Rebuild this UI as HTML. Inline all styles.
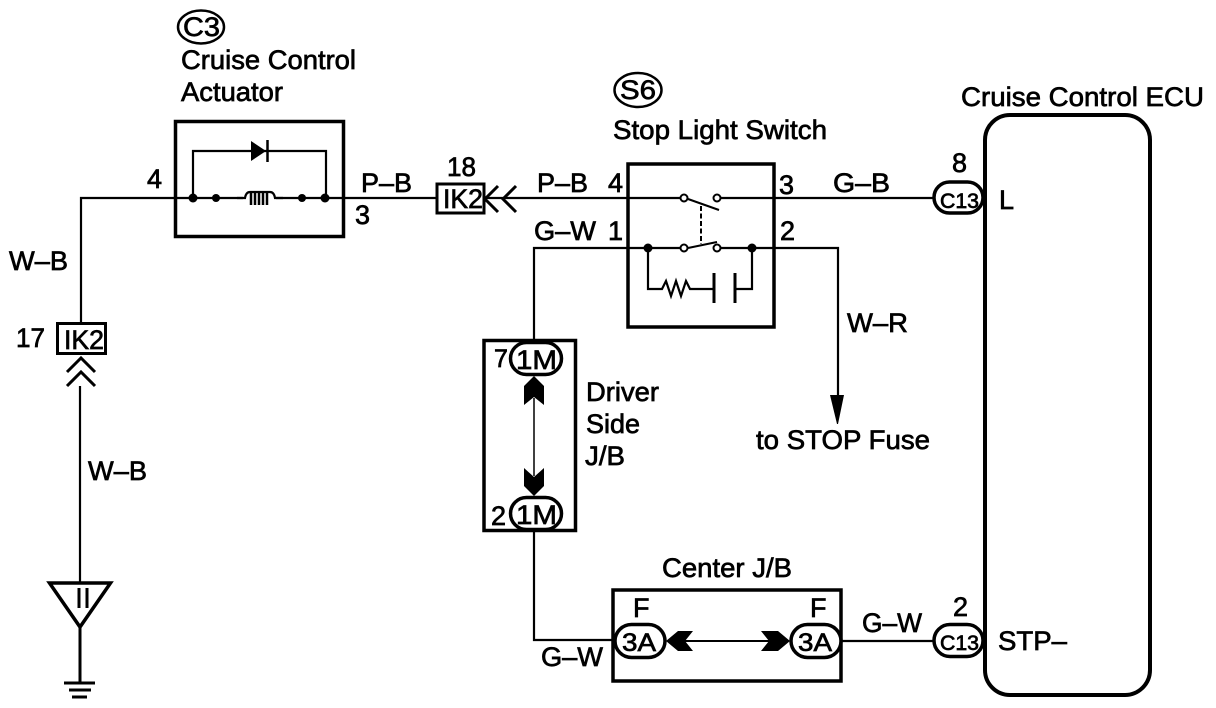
<!DOCTYPE html>
<html><head><meta charset="utf-8"><style>
html,body{margin:0;padding:0;background:#fff}
svg{display:block}
text{font-family:"Liberation Sans",sans-serif;font-size:27px;fill:#000;stroke:#000;stroke-width:.7}
.w{fill:none;stroke:#000;stroke-width:2.2}
.b{fill:none;stroke:#000;stroke-width:3.5}
.o{fill:#fff;stroke:#000;stroke-width:3.5}
.k{fill:#000;stroke:none}
</style></head><body>
<svg width="1216" height="708" viewBox="0 0 1216 708" xmlns="http://www.w3.org/2000/svg">
<rect width="1216" height="708" fill="#fff"/>
<!-- wires -->
<path class="w" d="M81 323V198H436"/>
<path class="w" d="M484 198H680M721 198H933"/>
<path class="w" d="M534 340V248H680M721 248H838V396"/>
<path class="w" d="M534 531V640H613"/>
<path class="w" d="M842 641H933"/>
<path class="w" d="M80 386V583"/>
<!-- Actuator -->
<rect class="b" x="175.500" y="121.500" width="168" height="115"/>
<path class="w" d="M193 198V151H326V198"/>
<path class="k" d="M251 141L266 151L251 161Z"/>
<path d="M267.500 140V162" stroke="#000" stroke-width="2.500"/>
<circle class="k" cx="193" cy="198" r="4.500"/><circle class="k" cx="216" cy="198" r="4"/>
<circle class="k" cx="302" cy="198" r="4"/><circle class="k" cx="325" cy="198" r="4.500"/>
<rect x="243" y="191" width="33" height="14" fill="#fff"/>
<path class="w" d="M237 198H245Q246 192 250 192H270Q274 192 275 198H283"/>
<path d="M251 193V205M255 193V205M259 193V205M263 193V205M267 193V205" stroke="#000" stroke-width="2.500" fill="none"/>
<!-- IK2 17 -->
<rect x="57.500" y="323.500" width="48" height="30" fill="#fff" stroke="#000" stroke-width="3"/>
<path d="M67 372L81 358L95 372M67 386L81 372L95 386" fill="none" stroke="#000" stroke-width="3"/>
<!-- ground -->
<path d="M49.500 583H110.500L80 627Z" fill="#fff" stroke="#000" stroke-width="3.500"/>
<path d="M79 588V608M87 588V608" stroke="#000" stroke-width="3"/>
<path d="M80 627V683" stroke="#000" stroke-width="3"/>
<path d="M64 683H95M69 690H91M72 697H87" stroke="#000" stroke-width="3"/>
<!-- IK2 18 -->
<rect x="437" y="184" width="47" height="29" fill="#fff" stroke="#000" stroke-width="3"/>
<path d="M498 186L485 199L498 212M516 186L503 199L516 212" fill="none" stroke="#000" stroke-width="3"/>
<!-- Switch -->
<rect class="b" x="628" y="164" width="146" height="163"/>
<circle cx="684" cy="198" r="3.500" fill="#fff" stroke="#000" stroke-width="2"/>
<circle cx="717" cy="198" r="3.500" fill="#fff" stroke="#000" stroke-width="2"/>
<path d="M688 199L719 210" stroke="#000" stroke-width="2"/>
<path d="M701 206V244" stroke="#000" stroke-width="2" stroke-dasharray="5 2.500"/>
<circle cx="684" cy="248" r="3.500" fill="#fff" stroke="#000" stroke-width="2"/>
<circle cx="717" cy="248" r="3.500" fill="#fff" stroke="#000" stroke-width="2"/>
<path d="M688 248L717 242" stroke="#000" stroke-width="2"/>
<circle class="k" cx="648" cy="248" r="4.500"/><circle class="k" cx="752" cy="248" r="4.500"/>
<path class="w" d="M648 248V289H662L666 281L671 296L676 281L681 296L686 281L690 289H714"/>
<path class="w" d="M735 289H752V248"/>
<path d="M714 273V303M735 273V303" stroke="#000" stroke-width="3"/>
<!-- arrow to fuse -->
<path class="k" d="M830 395H844L838 424H837Z"/>
<!-- Driver J/B -->
<rect class="b" x="484" y="340.500" width="91.500" height="190"/>
<path d="M534 398V476" stroke="#000" stroke-width="1.500"/>
<path class="k" d="M534 376L544 386V405L534 397L524 405V386Z"/>
<path class="k" d="M534 496L544 486V468L534 477L524 468V486Z"/>
<rect class="o" x="510.500" y="342.500" width="51" height="32" rx="16"/>
<rect class="o" x="510.500" y="497.500" width="51" height="32" rx="16"/>
<!-- Center J/B -->
<rect class="b" x="613" y="590" width="228" height="91"/>
<path d="M685 641H769" stroke="#000" stroke-width="2"/>
<path class="k" d="M666 641L678 631H693L685 641L693 651H678Z"/>
<path class="k" d="M790 641L778 631H761L769 641L761 651H778Z"/>
<rect class="o" x="615" y="624.500" width="50" height="33" rx="16.500"/>
<rect class="o" x="791" y="624.500" width="50" height="33" rx="16.500"/>
<!-- ECU -->
<rect x="985" y="115" width="165" height="580" rx="25" ry="25" fill="#fff" stroke="#000" stroke-width="4"/>
<rect class="o" x="934" y="182" width="49" height="31" rx="15.500"/>
<rect class="o" x="934" y="624.500" width="49" height="32" rx="16"/>
<!-- ellipses -->
<ellipse cx="201" cy="27" rx="23" ry="16.500" fill="none" stroke="#000" stroke-width="2.500"/>
<ellipse cx="638" cy="90" rx="23.500" ry="17" fill="none" stroke="#000" stroke-width="2.500"/>
<!-- labels -->
<text x="183" y="36" textLength="37" lengthAdjust="spacingAndGlyphs">C3</text>
<text x="181" y="69" textLength="175" lengthAdjust="spacingAndGlyphs">Cruise Control</text>
<text x="181" y="101" textLength="102" lengthAdjust="spacingAndGlyphs">Actuator</text>
<text x="147" y="188">4</text>
<text x="361" y="192" textLength="51" lengthAdjust="spacingAndGlyphs">P–B</text>
<text x="355" y="224">3</text>
<text x="9" y="270" textLength="59" lengthAdjust="spacingAndGlyphs">W–B</text>
<text x="16" y="347" textLength="29" lengthAdjust="spacingAndGlyphs">17</text>
<text x="64" y="349" textLength="40" lengthAdjust="spacingAndGlyphs">IK2</text>
<text x="88" y="480" textLength="59" lengthAdjust="spacingAndGlyphs">W–B</text>
<text x="447" y="176" textLength="29" lengthAdjust="spacingAndGlyphs">18</text>
<text x="443" y="208" textLength="40" lengthAdjust="spacingAndGlyphs">IK2</text>
<text x="537" y="192" textLength="51" lengthAdjust="spacingAndGlyphs">P–B</text>
<text x="608" y="192">4</text>
<text x="613" y="139" textLength="214" lengthAdjust="spacingAndGlyphs">Stop Light Switch</text>
<text x="620" y="99" textLength="36" lengthAdjust="spacingAndGlyphs">S6</text>
<text x="779" y="194">3</text>
<text x="833" y="192" textLength="57" lengthAdjust="spacingAndGlyphs">G–B</text>
<text x="534" y="240" textLength="62" lengthAdjust="spacingAndGlyphs">G–W</text>
<text x="608" y="240">1</text>
<text x="780" y="240">2</text>
<text x="847" y="332" textLength="61" lengthAdjust="spacingAndGlyphs">W–R</text>
<text x="756" y="449" textLength="174" lengthAdjust="spacingAndGlyphs">to STOP Fuse</text>
<text x="586" y="401" textLength="73" lengthAdjust="spacingAndGlyphs">Driver</text>
<text x="586" y="433" textLength="54" lengthAdjust="spacingAndGlyphs">Side</text>
<text x="585" y="465" textLength="40" lengthAdjust="spacingAndGlyphs">J/B</text>
<text x="494" y="367" style="font-size:25px">7</text>
<text x="491" y="525">2</text>
<text x="516" y="369" textLength="41" lengthAdjust="spacingAndGlyphs">1M</text>
<text x="516" y="524" textLength="41" lengthAdjust="spacingAndGlyphs">1M</text>
<text x="662" y="577" textLength="130" lengthAdjust="spacingAndGlyphs">Center J/B</text>
<text x="633" y="617">F</text>
<text x="810" y="617">F</text>
<text x="622" y="651" textLength="34" lengthAdjust="spacingAndGlyphs" style="font-size:25px">3A</text>
<text x="798" y="651" textLength="34" lengthAdjust="spacingAndGlyphs" style="font-size:25px">3A</text>
<text x="541" y="666" textLength="62" lengthAdjust="spacingAndGlyphs">G–W</text>
<text x="862" y="632" textLength="60" lengthAdjust="spacingAndGlyphs">G–W</text>
<text x="952" y="172">8</text>
<text x="953" y="616">2</text>
<text x="940" y="208" textLength="39" lengthAdjust="spacingAndGlyphs" style="font-size:21px">C13</text>
<text x="940" y="650" textLength="39" lengthAdjust="spacingAndGlyphs" style="font-size:21px">C13</text>
<text x="999" y="209">L</text>
<text x="998" y="650" textLength="69" lengthAdjust="spacingAndGlyphs">STP–</text>
<text x="961" y="106" textLength="243" lengthAdjust="spacingAndGlyphs">Cruise Control ECU</text>
</svg>
</body></html>
